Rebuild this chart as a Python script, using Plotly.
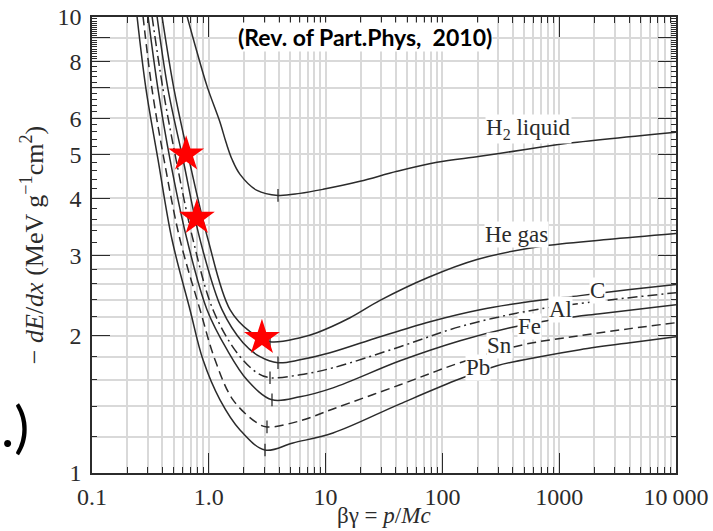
import math
import plotly.graph_objects as go

# ---------------- data ----------------
h2_x = [0.6507, 0.7925, 0.9652, 1.247, 1.404, 1.580, 1.850, 2.586, 3.913, 6.037, 9.50, 19.70, 40.87, 89.9, 209.8, 530.1, 1016, 10000]
h2_y = [10.05, 8.377, 7.053, 5.877, 5.312, 4.875, 4.518, 4.166, 4.062, 4.104, 4.188, 4.361, 4.587, 4.801, 4.949, 5.128, 5.259, 5.588]

he_x = [0.3974, 0.5036, 0.6767, 0.9845, 1.5187, 2.253, 3.342, 6.037, 8.44, 16.18, 29.23, 75.29, 197.8, 684.8, 2566, 10000]
he_y = [10.05, 6.947, 4.875, 3.251, 2.281, 2.041, 1.941, 1.980, 2.031, 2.190, 2.390, 2.683, 2.939, 3.139, 3.251, 3.352]

c_x = [0.3601, 0.4472, 0.6013, 0.8410, 1.2972, 1.963, 2.744, 3.913, 6.037, 10.91, 29.23, 78.31, 209.8, 562.3, 1507, 4039, 10000]
c_y = [10.05, 6.947, 4.875, 3.251, 2.281, 1.931, 1.799, 1.745, 1.771, 1.835, 1.990, 2.147, 2.281, 2.376, 2.449, 2.525, 2.590]

al_x = [0.3264, 0.4053, 0.5239, 0.7322, 1.0864, 1.744, 2.586, 3.342, 6.037, 11.57, 43.4, 141.5, 562.3, 1730, 10000]
al_y = [10.05, 6.947, 4.875, 3.251, 2.281, 1.835, 1.659, 1.618, 1.642, 1.701, 1.892, 2.094, 2.270, 2.364, 2.486]

fe_x = [0.3016, 0.3673, 0.4655, 0.6507, 0.9652, 1.432, 2.124, 3.476, 6.037, 11.57, 43.4, 141.5, 379.2, 786.4, 2235, 10000]
fe_y = [10.05, 6.947, 4.875, 3.251, 2.281, 1.864, 1.601, 1.447, 1.469, 1.537, 1.762, 1.950, 2.083, 2.158, 2.236, 2.340]

sn_x = [0.2733, 0.3264, 0.4133, 0.5667, 0.8410, 1.130, 1.611, 2.586, 3.149, 6.037, 11.57, 43.4, 141.5, 489.8, 1507, 4039, 10000]
sn_y = [10.05, 6.947, 4.875, 3.251, 2.281, 1.771, 1.447, 1.288, 1.262, 1.301, 1.382, 1.561, 1.745, 1.911, 2.000, 2.073, 2.136]

pb_x = [0.2428, 0.2900, 0.3673, 0.4841, 0.6902, 0.892, 1.247, 1.850, 3.028, 5.259, 11.57, 43.4, 141.5, 293.5, 684.8, 1507, 4039, 10000]
pb_y = [10.05, 6.947, 4.875, 3.251, 2.281, 1.771, 1.447, 1.243, 1.123, 1.164, 1.224, 1.418, 1.609, 1.719, 1.799, 1.864, 1.931, 1.990]

# minimum-ionisation tick marks
min_x = [3.913, 3.342, 3.913, 3.342, 3.476, 3.149, 3.028]
min_y = [4.062, 1.941, 1.745, 1.618, 1.447, 1.262, 1.123]

# red stars
star_x = [0.64, 0.79, 2.85]
star_y = [5.0, 3.63, 1.98]

# curve labels
label_text = ["H<sub>2</sub> liquid", "He gas", "C", "Al", "Fe", "Sn", "Pb"]
label_x = [551, 427, 2107, 1016, 562, 311, 202]
label_y = [5.67, 3.34, 2.51, 2.28, 2.094, 1.901, 1.701]

# axis ticks
x_major = [0.1, 1, 10, 100, 1000, 10000]
x_labels = ["0.1", "1.0", "10", "100", "1000", "10\u2009000"]
x_minor = [m * d for d in [0.1, 1, 10, 100, 1000] for m in range(2, 10)]

y_major = [1, 2, 3, 4, 5, 6, 7, 8, 9, 10]
y_labels = ["1", "2", "3", "4", "5", "6", "", "8", "", "10"]
y_minor = [round(1 + 0.2 * i, 2) for i in range(1, 35)] + [round(8 + 0.1 * i, 2) for i in range(1, 20)]
y_minor = [v for v in y_minor if abs(v - round(v)) > 1e-6]
y_grid_extra = [1.2, 1.4, 1.6, 1.8, 2.2, 2.4, 2.6, 2.8, 3.5]

# ---------------- styling ----------------
INK = "#2b2b2b"
GRID = "#d9d9d9"
SERIF = "Liberation Serif"

fig = go.Figure()

curves = [
    (h2_x, h2_y, "solid"),
    (he_x, he_y, "solid"),
    (c_x, c_y, "solid"),
    (al_x, al_y, "10px,4px,2px,4px"),
    (fe_x, fe_y, "solid"),
    (sn_x, sn_y, "9px,5px"),
    (pb_x, pb_y, "solid"),
]
for xs, ys, dash in curves:
    fig.add_trace(go.Scatter(x=xs, y=ys, mode="lines",
                             line=dict(color=INK, width=1.5, dash=dash, shape="spline", smoothing=1.0),
                             hoverinfo="skip"))

fig.add_trace(go.Scatter(x=min_x, y=min_y, mode="markers",
                         marker=dict(symbol="line-ns", size=9, line=dict(color=INK, width=1.3)),
                         hoverinfo="skip"))

fig.add_trace(go.Scatter(x=star_x, y=star_y, mode="markers",
                         marker=dict(symbol="star", size=27, color="#ff0000", line=dict(width=0)),
                         hoverinfo="skip"))

# overlay axis that only carries the extra horizontal grid lines
fig.add_trace(go.Scatter(x=[1], y=[1], yaxis="y2", mode="markers", marker=dict(opacity=0), hoverinfo="skip"))

# log axes: annotation positions are given in log10 units
for t, lx, ly in zip(label_text, label_x, label_y):
    fig.add_annotation(x=math.log10(lx), y=math.log10(ly), xref="x", yref="y", text=t, showarrow=False,
                       font=dict(family=SERIF, size=23, color=INK),
                       bgcolor="white", borderpad=0)

fig.add_annotation(x=0.467, y=0.956, xref="paper", yref="paper", xanchor="center", yanchor="middle",
                   text="<b>(Rev. of Part.Phys,  2010)</b>", showarrow=False,
                   font=dict(family="Lato", size=23, color="black"), bgcolor="white", borderpad=0)

fig.add_annotation(x=-0.16, y=0.105, xref="paper", yref="paper", xanchor="left", yanchor="middle",
                   text=".)", showarrow=False,
                   font=dict(family="Lato", size=56, color="black"))

# x-axis title (placed as an annotation just under the tick labels)
fig.add_annotation(x=0.5, y=-0.094, xref="paper", yref="paper", xanchor="center", yanchor="middle",
                   text="βγ = <i>p</i>/<i>Mc</i>", showarrow=False,
                   font=dict(family=SERIF, size=23, color=INK))

axis_common = dict(
    showline=True, linecolor=INK, linewidth=1.5, mirror="ticks",
    ticks="inside", tickcolor=INK, tickwidth=1.2,
    showgrid=True, gridcolor=GRID, gridwidth=2, zeroline=False,
    tickfont=dict(family=SERIF, size=24, color=INK),
    automargin=False,
)

fig.update_layout(
    width=713, height=531,
    margin=dict(l=92, r=37, t=17, b=58),
    plot_bgcolor="white", paper_bgcolor="white",
    showlegend=False,
    xaxis=dict(type="log", range=[-1, 4], tickmode="array", tickvals=x_major, ticktext=x_labels,
               ticklen=20, ticklabelstandoff=1,
               minor=dict(tickmode="array", tickvals=x_minor, ticks="inside", ticklen=6,
                          tickwidth=1, tickcolor=INK, showgrid=True, gridcolor=GRID, gridwidth=2),
               **axis_common),
    yaxis=dict(type="log", range=[0, 1], tickmode="array", tickvals=y_major, ticktext=y_labels,
               ticklen=18, ticklabelstandoff=4,
               minor=dict(tickmode="array", tickvals=y_minor, ticks="inside", ticklen=5,
                          tickwidth=1, tickcolor=INK, showgrid=False),
               title=dict(text="− <i>dE</i>/<i>dx</i> (MeV g<sup>−1</sup>cm<sup>2</sup>)",
                          font=dict(family=SERIF, size=26, color=INK), standoff=6),
               **axis_common),
    yaxis2=dict(type="log", range=[0, 1], overlaying="y", side="left", tickmode="array",
                tickvals=y_grid_extra, showticklabels=False, ticks="", showline=False,
                showgrid=True, gridcolor=GRID, gridwidth=2, zeroline=False),
)

fig.write_html("out.html")
